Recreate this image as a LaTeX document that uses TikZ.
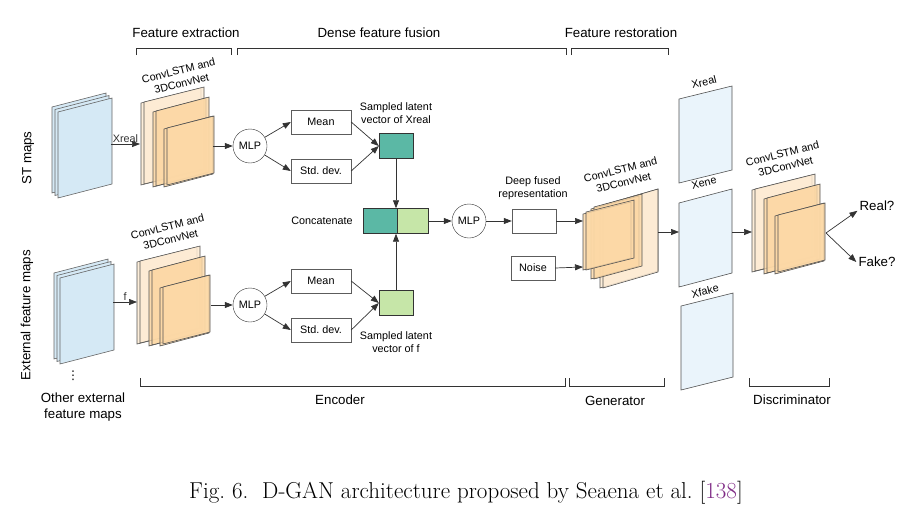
\documentclass[tikz,border=0pt]{standalone}
\usepackage{fontspec}
\newfontfamily\diagfont{Liberation Sans}
\newfontfamily\symfont{DejaVu Sans}
\usetikzlibrary{arrows.meta,positioning}
\definecolor{dganLine}{HTML}{333333}
\definecolor{dganBlue}{HTML}{D5E9F5}
\definecolor{dganPale}{HTML}{EAF4FB}
\definecolor{dganPeach}{HTML}{FDEBD3}
\definecolor{dganOrange}{HTML}{FCD8A6}
\definecolor{dganTeal}{HTML}{5BB8A5}
\definecolor{dganGreen}{HTML}{C6E6A8}
\definecolor{dganCite}{HTML}{7F2A85}
\newcommand{\smalltxt}{\diagfont\fontsize{10.8}{13}\selectfont}
\newcommand{\bigtxt}{\diagfont\fontsize{13.3}{16}\selectfont}
% one slanted sheet: x, y of top left corner, width, height, rise, style
\newcommand{\sheet}[6]{\draw[#6] (#1,#2) -- ++(#3,-#5) -- ++(0,#4) -- ++(-#3,#5) -- cycle;}
\newcommand{\mapstack}[2]{%
  \begin{scope}[shift={(#1,#2)}]
    \sheet{0}{0}{54}{86}{14}{mapsheet}\sheet{3}{2.5}{54}{86}{14}{mapsheet}\sheet{6}{5}{54}{86}{14}{mapsheet}
  \end{scope}}
\newcommand{\convstack}[2]{%
  \begin{scope}[shift={(#1,#2)}]
    \sheet{0}{0}{60}{82}{15}{convlight}\sheet{3}{-1}{60}{82}{15}{convlight}
    \sheet{12}{9}{53}{75}{14}{convdark}\sheet{15}{8}{53}{75}{14}{convdark}
    \sheet{23}{26}{49}{58}{13}{convdark}\sheet{26}{25}{47}{57}{12}{convdark}
  \end{scope}}

\begin{document}
\begin{tikzpicture}[x=1pt, y=-1pt,
    box/.style={draw=dganLine!80, fill=white, minimum width=60pt, minimum height=24pt, inner sep=0pt, font=\smalltxt},
    circ/.style={circle, draw=dganLine, fill=white, minimum size=34pt, inner sep=0pt, font=\smalltxt},
    latent/.style={draw=dganLine, minimum width=34pt, minimum height=25pt, inner sep=0pt},
    lbl/.style={font=\smalltxt, align=center, inner sep=1pt},
    head/.style={font=\bigtxt, align=center, inner sep=1pt},
    arr/.style={-{Triangle[length=8pt, width=6pt]}, dganLine, line width=0.7pt},
    brace/.style={dganLine, line width=1pt},
    mapsheet/.style={draw=dganLine!75, fill=dganBlue, line width=0.6pt},
    palesheet/.style={draw=dganLine!85, fill=dganPale, line width=0.6pt},
    convlight/.style={draw=dganLine!85, fill=dganPeach, fill opacity=0.85, line width=0.6pt},
    convdark/.style={draw=dganLine!85, fill=dganOrange, fill opacity=0.8, line width=0.6pt}]
  \useasboundingbox (0,0) rectangle (900,514);

  % stage brackets
  \draw[brace] (136,55) -- (136,48) -- (231,48) -- (231,55);
  \draw[brace] (237,55) -- (237,48) -- (566,48) -- (566,55);
  \draw[brace] (571,55) -- (571,48) -- (668,48) -- (668,55);
  \node[head] (extr) at (186,33) {Feature extraction};
  \node[head] (fusion) at (379,33) {Dense feature fusion};
  \node[head] (restor) at (621,33) {Feature restoration};
  \draw[brace] (140,378) -- (140,386) -- (565,386) -- (565,378);
  \draw[brace] (569,378) -- (569,386) -- (664,386) -- (664,378);
  \draw[brace] (749,378) -- (749,386) -- (829,386) -- (829,378);
  \node[head] (enc) at (340,400) {Encoder};
  \node[head] (gen) at (615,401) {Generator};
  \node[head] (disc) at (792,400) {Discriminator};

  % input maps
  \mapstack{52}{107}
  \mapstack{54}{273}
  \node[head, rotate=90] (stlbl) at (28,158) {ST maps};
  \node[head, rotate=90] (extlbl) at (27,315) {External feature maps};
  \node[font=\symfont\fontsize{12}{12}\selectfont, inner sep=0pt] (dots) at (73,376) {⋮};
  \node[head] (other) at (83,407) {Other external\\feature maps};

  % feature extraction
  \convstack{141}{103}
  \convstack{137}{262}
  \node[lbl, rotate=14] (convAlbl) at (180,77) {ConvLSTM and\\3DConvNet};
  \node[lbl, rotate=14] (convBlbl) at (169,233) {ConvLSTM and\\3DConvNet};
  \coordinate (stOut) at (111,144);
  \coordinate (convAIn) at (140,144);
  \coordinate (convAOut) at (213,146);
  \coordinate (extOut) at (113,302);
  \coordinate (convBIn) at (137,302);
  \coordinate (convBOut) at (211,305);
  \draw[arr] (stOut) -- node[lbl, above] {Xreal} (convAIn);
  \draw[arr] (extOut) -- node[lbl, above] {f} (convBIn);

  % dense feature fusion
  \node[circ] (mlpA) at (250,146) {MLP};
  \node[box] (meanA) at (321,122) {Mean};
  \node[box] (stdA) at (321,171) {Std.\ dev.};
  \node[latent, fill=dganTeal] (zA) at (396,146) {};
  \node[lbl] (zAlbl) at (396,113) {Sampled latent\\vector of Xreal};
  \node[circ] (mlpB) at (250,305) {MLP};
  \node[box] (meanB) at (321,281) {Mean};
  \node[box] (stdB) at (321,330) {Std.\ dev.};
  \node[latent, fill=dganGreen] (zB) at (396,303) {};
  \node[lbl] (zBlbl) at (396,342) {Sampled latent\\vector of f};
  \node[latent, fill=dganTeal] (catA) at (380,221) {};
  \node[latent, fill=dganGreen, minimum width=31pt, right=0pt of catA] (catB) {};
  \node[lbl] (catlbl) at (322,221) {Concatenate};
  \node[circ] (mlpC) at (469,221) {MLP};
  \node[box, minimum width=44pt] (fused) at (534,221) {};
  \node[lbl] (fusedlbl) at (533,188) {Deep fused\\representation};
  \node[box, minimum width=44pt] (noise) at (533,268) {Noise};

  \draw[arr] (convAOut) -- (mlpA);
  \draw[arr] (mlpA) -- (meanA.west);
  \draw[arr] (mlpA) -- (stdA.west);
  \draw[arr] (meanA.east) -- (zA.west);
  \draw[arr] (stdA.east) -- (zA.west);
  \draw[arr] (convBOut) -- (mlpB);
  \draw[arr] (mlpB) -- (meanB.west);
  \draw[arr] (mlpB) -- (stdB.west);
  \draw[arr] (meanB.east) -- (zB.west);
  \draw[arr] (stdB.east) -- (zB.west);
  \draw[arr] (zA.south) -- (zA.south |- catA.north);
  \draw[arr] (zB.north) -- (zB.north |- catA.south);
  \draw[arr] (catB) -- (mlpC);
  \draw[arr] (mlpC) -- (fused);

  % generator
  \sheet{600}{206}{58}{82}{17}{convlight}\sheet{603}{205}{55}{83}{16}{convlight}
  \sheet{591}{209}{48}{70}{13}{convdark}\sheet{594}{207}{48}{72}{13}{convdark}
  \sheet{583}{214}{48}{56}{12}{convdark}\sheet{586}{212}{48}{58}{12}{convdark}
  \node[lbl, rotate=14] (genlbl) at (622,176) {ConvLSTM and\\3DConvNet};
  \coordinate (genIn) at (583,221);
  \coordinate (noiseIn) at (583,267);
  \coordinate (genOut) at (658,232);
  \draw[arr] (fused) -- (genIn);
  \draw[arr] (noise.east) -- (noiseIn);

  % real, generated and fake samples
  \sheet{679}{99}{53}{84}{13}{palesheet}
  \sheet{679}{203}{53}{84}{14}{palesheet}
  \sheet{681}{306}{52}{84}{13}{palesheet}
  \node[lbl, rotate=14] (xreal) at (704,82) {Xreal};
  \node[lbl, rotate=14] (xene) at (704,183) {Xene};
  \node[lbl, rotate=14] (xfake) at (705,291) {Xfake};
  \coordinate (xeneIn) at (679,232);
  \coordinate (xeneOut) at (732,232);
  \draw[arr] (genOut) -- (xeneIn);

  % discriminator
  \convstack{752}{190}
  \node[lbl, rotate=14] (disclbl) at (784,160) {ConvLSTM and\\3DConvNet};
  \coordinate (discIn) at (752,232);
  \coordinate (discOut) at (826,233);
  \node[head, inner sep=2pt] (real) at (877,206) {Real?};
  \node[head, inner sep=2pt] (fake) at (877,262) {Fake?};
  \draw[arr] (xeneOut) -- (discIn);
  \draw[arr] (discOut) -- (real.base west);
  \draw[arr] (discOut) -- (fake.west);

  \node[font=\rmfamily\fontsize{23}{26}\selectfont] (cap) at (466,493)
    {Fig.~6.\ \ D-GAN architecture proposed by Seaena et al.~[\textcolor{dganCite}{138}]};
\end{tikzpicture}
\end{document}
